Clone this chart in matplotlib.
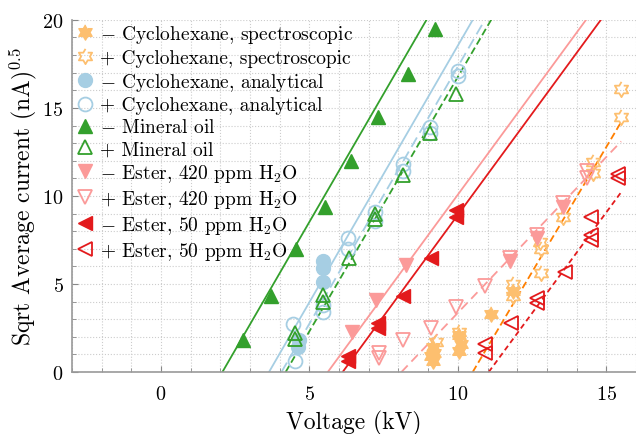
import matplotlib
matplotlib.use("Agg")
import matplotlib.pyplot as plt
import numpy as np

plt.rcParams['font.family'] = 'serif'
plt.rcParams['font.serif'] = ['cmr10']
plt.rcParams['mathtext.fontset'] = 'cm'
plt.rcParams['axes.formatter.use_mathtext'] = True

# --- data (voltage in kV, sqrt current) ---
spec_neg_v = [9.15, 9.1, 9.2, 9.15, 10.05, 10.1, 10.05, 11.1, 11.85]
spec_neg_i = [0.6, 0.9, 1.1, 1.4, 1.2, 1.6, 2.1, 3.3, 4.6]
spec_pos_v = [9.25, 10.05, 11.85, 11.85, 12.8, 12.8, 12.75, 13.55, 14.55, 14.55, 15.5, 15.5]
spec_pos_i = [1.7, 2.3, 4.3, 5.0, 5.6, 7.0, 7.4, 8.8, 11.3, 11.9, 14.5, 16.1]

ana_neg_v = [4.6, 4.65, 5.45, 5.45, 5.45]
ana_neg_i = [1.4, 1.8, 5.1, 5.9, 6.3]
ana_pos_v = [4.5, 4.45, 5.45, 5.45, 6.3, 6.3, 7.2, 7.2, 8.15, 8.15, 9.05, 9.05, 10.0, 10.0]
ana_pos_i = [0.6, 2.7, 3.4, 3.8, 7.0, 7.6, 8.6, 9.1, 11.4, 11.8, 13.6, 13.9, 16.8, 17.1]

min_neg_v = [2.77, 3.72, 4.56, 5.52, 6.39, 7.3, 8.31, 9.22]
min_neg_i = [1.8, 4.3, 7.0, 9.4, 12.0, 14.5, 16.9, 19.5]
min_pos_v = [4.5, 4.5, 5.45, 5.45, 6.35, 7.2, 7.2, 8.15, 9.05, 9.95]
min_pos_i = [1.9, 2.2, 4.0, 4.4, 6.5, 8.7, 9.0, 11.2, 13.6, 15.8]

e420_neg_v = [6.45, 7.25, 8.25, 11.75, 12.65, 13.55]
e420_neg_i = [2.3, 4.1, 6.1, 6.3, 7.6, 9.4]
e420_pos_v = [7.35, 7.35, 8.15, 9.1, 9.95, 10.9, 11.75, 12.65, 13.55, 14.35, 14.35]
e420_pos_i = [0.8, 1.1, 1.8, 2.5, 3.7, 4.9, 6.5, 7.8, 9.6, 11.0, 11.4]

e50_neg_v = [6.3, 6.3, 7.3, 7.3, 8.15, 9.1, 9.95, 9.95]
e50_neg_i = [0.6, 0.9, 2.5, 2.8, 4.3, 6.5, 8.8, 9.2]
e50_pos_v = [10.9, 10.9, 11.8, 12.65, 12.65, 13.6, 14.5, 14.5, 14.5, 15.4, 15.4]
e50_pos_i = [1.1, 1.6, 2.8, 3.9, 4.2, 5.7, 7.5, 7.8, 8.8, 11.0, 11.25]

# fitted lines: onset voltage, slope, colour, style
fit_onset = [2.07, 3.64, 4.06, 4.2, 5.62, 6.12, 8.1, 10.5, 11.04]
fit_slope = [2.91, 2.915, 2.92, 2.89, 2.3, 2.3, 1.77, 2.84, 2.29]
fit_end = 15.5

c_lorange = '#fdbf6f'
c_orange = '#ff7f00'
c_lblue = '#a6cee3'
c_green = '#33a02c'
c_pink = '#fb9a99'
c_red = '#e31a1c'

fit_color = [c_green, c_lblue, c_lblue, c_green, c_pink, c_red, c_pink, c_orange, c_red]
fit_style = ['-', '-', (0, (6, 3)), (0, (4, 2)), '-', '-', (0, (5, 3)), (0, (4, 2)), (0, (3, 2))]

# six pointed star marker
ang = np.deg2rad(90 + 30 * np.arange(12))
rad = np.where(np.arange(12) % 2 == 0, 1.0, 1 / np.sqrt(3))
hexstar = list(zip(rad * np.cos(ang), rad * np.sin(ang)))

fig = plt.figure(figsize=(6.36, 4.35), dpi=100)
ax = fig.add_axes([0.113, 0.1425, 0.887, 0.8095])

for x0, k, c, ls in zip(fit_onset, fit_slope, fit_color, fit_style):
    xs = np.array([x0, fit_end])
    ax.plot(xs, k * (xs - x0), color=c, ls=ls, lw=1.3, zorder=2)

ms = 10
mew = 1.3
def filled(v, i, m, c, lab, size=ms):
    ax.plot(v, i, ls='none', marker=m, ms=size, color=c, mec=c, label=lab, zorder=3)

def hollow(v, i, m, c, lab, size=ms):
    ax.plot(v, i, ls='none', marker=m, ms=size, mfc='none', mec=c, mew=mew, label=lab, zorder=3)

filled(spec_neg_v, spec_neg_i, hexstar, c_lorange, r'$-$ Cyclohexane, spectroscopic', 11)
hollow(spec_pos_v, spec_pos_i, hexstar, c_lorange, '+ Cyclohexane, spectroscopic', 11)
filled(ana_neg_v, ana_neg_i, 'o', c_lblue, r'$-$ Cyclohexane, analytical')
hollow(ana_pos_v, ana_pos_i, 'o', c_lblue, '+ Cyclohexane, analytical')
filled(min_neg_v, min_neg_i, '^', c_green, r'$-$ Mineral oil')
hollow(min_pos_v, min_pos_i, '^', c_green, '+ Mineral oil')
filled(e420_neg_v, e420_neg_i, 'v', c_pink, r'$-$ Ester, 420 ppm H$_2$O')
hollow(e420_pos_v, e420_pos_i, 'v', c_pink, r'+ Ester, 420 ppm H$_2$O')
filled(e50_neg_v, e50_neg_i, '<', c_red, r'$-$ Ester, 50 ppm H$_2$O')
hollow(e50_pos_v, e50_pos_i, '<', c_red, r'+ Ester, 50 ppm H$_2$O')

ax.set_xlim(-3, 16)
ax.set_ylim(0, 20)
ax.set_xticks([0, 5, 10, 15])
ax.set_yticks([0, 5, 10, 15, 20])
ax.set_xticks(np.arange(-3, 17, 1), minor=True)
ax.set_yticks(np.arange(0, 21, 1), minor=True)
ax.grid(True, which='both', ls=':', color='#cccccc', lw=0.8, zorder=0)
ax.set_axisbelow(True)
ax.tick_params(which='both', direction='in', color='#888888', labelsize=14.5)
ax.tick_params(axis='x', which='both', pad=9.5)
ax.tick_params(axis='y', which='both', pad=6)
ax.tick_params(which='major', length=4)
ax.tick_params(which='minor', length=3)
for s in ['top', 'right']:
    ax.spines[s].set_visible(False)
for s in ['left', 'bottom']:
    ax.spines[s].set_color('#999999')
    ax.spines[s].set_linewidth(1.2)

ax.set_xlabel('Voltage (kV)', fontsize=17, labelpad=5)
ax.set_ylabel(r'Sqrt Average current (nA)$^{0.5}$', fontsize=17, labelpad=2)

ax.legend(loc='upper left', frameon=False, fontsize=14, handlelength=1.0,
          handletextpad=0.3, labelspacing=0.2, borderaxespad=0.05,
          borderpad=0.1)

fig.savefig('out.png', dpi=100)
